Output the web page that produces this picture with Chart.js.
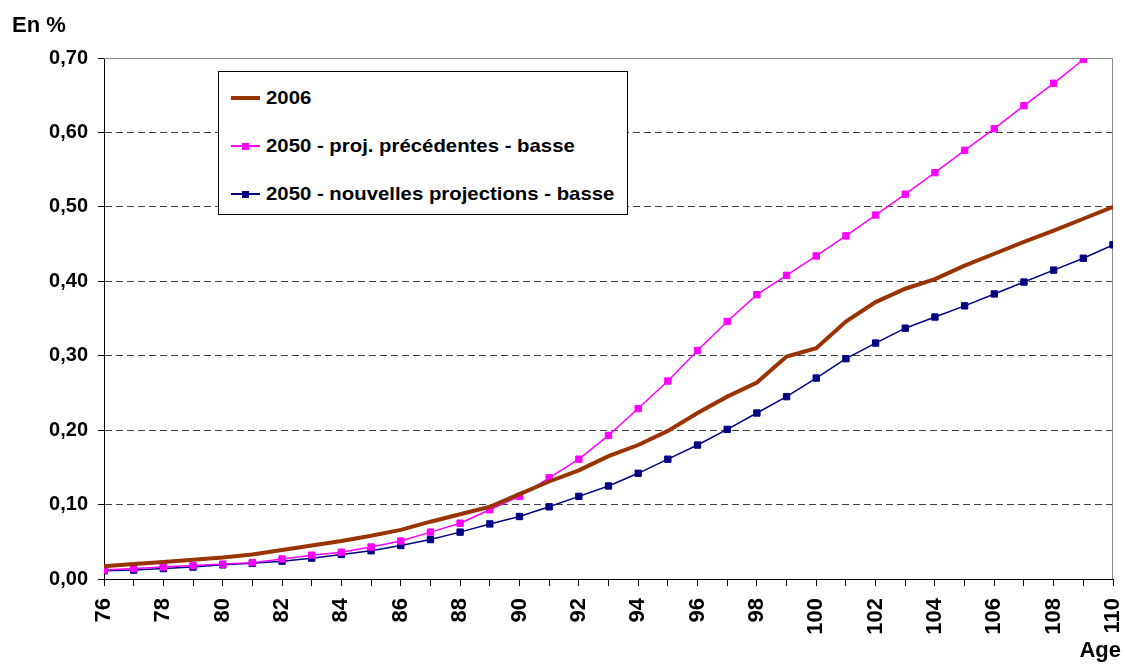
<!DOCTYPE html>
<html>
<head>
<meta charset="utf-8">
<script src="https://cdn.jsdelivr.net/npm/chart.js@4"></script>
<style>
  body { margin: 0; background: #fff; font-family: "Liberation Sans", Arial, sans-serif; }
  #wrap { position: relative; width: 1125px; height: 666px; }
  #legend {
    position: absolute; left: 218px; top: 71px; width: 408px; height: 142px;
    border: 1px solid #000; background: #fff;
  }
  .item { position: absolute; left: 12px; height: 22px; font-weight: bold; font-size: 18.5px; line-height: 22px; color: #000; white-space: nowrap; }
  .swatch { position: absolute; left: 0; top: 11px; width: 29px; }
  .mark { position: absolute; left: 11px; width: 7px; height: 7px; }
  .lbl { position: absolute; left: 35px; top: 0; transform: scaleX(1.1); transform-origin: left center; }
</style>
</head>
<body>
<div id="wrap">
  <canvas id="chart" width="1125" height="666"></canvas>
  <div id="legend"></div>
</div>
<script>
var ages = [76, 77, 78, 79, 80, 81, 82, 83, 84, 85, 86, 87, 88, 89, 90, 91, 92, 93,
  94, 95, 96, 97, 98, 99, 100, 101, 102, 103, 104, 105, 106, 107, 108, 109, 110];

var seriesNames = ['2006', '2050 - proj. précédentes - basse', '2050 - nouvelles projections - basse'];

var val2006 = [0.017, 0.020, 0.023, 0.026, 0.029, 0.033, 0.039, 0.045, 0.051, 0.058,
  0.066, 0.077, 0.087, 0.097, 0.114, 0.131, 0.146, 0.165, 0.180, 0.199,
  0.223, 0.245, 0.264, 0.299, 0.310, 0.346, 0.372, 0.390, 0.403, 0.421,
  0.437, 0.453, 0.468, 0.484, 0.500];

var valPrec = [0.012, 0.014, 0.016, 0.018, 0.020, 0.022, 0.027, 0.032, 0.036, 0.043,
  0.051, 0.063, 0.075, 0.093, 0.111, 0.136, 0.161, 0.193, 0.229, 0.266,
  0.307, 0.346, 0.382, 0.408, 0.434, 0.461, 0.489, 0.517, 0.546, 0.576,
  0.605, 0.636, 0.666, 0.698, 0.728];

var valNouv = [0.011, 0.012, 0.014, 0.016, 0.019, 0.021, 0.024, 0.028, 0.033, 0.038,
  0.045, 0.053, 0.063, 0.074, 0.084, 0.097, 0.111, 0.125, 0.142, 0.161,
  0.180, 0.201, 0.223, 0.245, 0.270, 0.296, 0.317, 0.337, 0.352, 0.367,
  0.383, 0.399, 0.415, 0.431, 0.449];

var yTicks = [0, 0.1, 0.2, 0.3, 0.4, 0.5, 0.6, 0.7];

var colors = ['#993300', '#ff00ff', '#000080'];
var fontFamily = '"Liberation Sans", Arial, sans-serif';

function toPoints(values) {
  return values.map(function(v, i) { return { x: ages[i], y: v }; });
}

// frame on top / right + free texts
var framePlugin = {
  id: 'frame',
  beforeDatasetsDraw: function(chart) {
    var a = chart.chartArea, ctx = chart.ctx;
    ctx.save();
    ctx.strokeStyle = '#888888';
    ctx.lineWidth = 1;
    ctx.beginPath();
    ctx.moveTo(a.left, a.top + 0.5);
    ctx.lineTo(a.right - 0.5, a.top + 0.5);
    ctx.lineTo(a.right - 0.5, a.bottom);
    ctx.stroke();
    ctx.restore();
  },
  afterDraw: function(chart) {
    var ctx = chart.ctx;
    ctx.save();
    ctx.fillStyle = '#000';
    ctx.font = 'bold 22px ' + fontFamily;
    ctx.textBaseline = 'middle';
    ctx.textAlign = 'left';
    ctx.fillText('En %', 12, 26);
    ctx.textAlign = 'right';
    ctx.fillText('Age', 1121, 651);
    ctx.restore();
  }
};

var ctx = document.getElementById('chart').getContext('2d');
var myChart = new Chart(ctx, {
  type: 'line',
  data: {
    datasets: [
      {
        label: seriesNames[0],
        data: toPoints(val2006),
        borderColor: colors[0],
        backgroundColor: colors[0],
        borderWidth: 4,
        pointRadius: 0,
        tension: 0
      },
      {
        label: seriesNames[1],
        data: toPoints(valPrec),
        borderColor: colors[1],
        backgroundColor: colors[1],
        borderWidth: 1.5,
        pointStyle: 'rect',
        pointRadius: 4.5,
        pointBorderWidth: 1,
        tension: 0
      },
      {
        label: seriesNames[2],
        data: toPoints(valNouv),
        borderColor: colors[2],
        backgroundColor: colors[2],
        borderWidth: 1.5,
        pointStyle: 'rect',
        pointRadius: 4.5,
        pointBorderWidth: 1,
        tension: 0
      }
    ]
  },
  options: {
    responsive: false,
    animation: false,
    devicePixelRatio: 1,
    layout: { padding: { left: 0, top: 58, right: 12, bottom: 0 } },
    plugins: {
      legend: { display: false },
      tooltip: { enabled: false }
    },
    scales: {
      x: {
        type: 'linear',
        min: ages[0],
        max: ages[ages.length - 1],
        afterFit: function(scale) {
          scale.height = 87;
          scale.paddingLeft = 0;
          scale.paddingRight = 0;
        },
        afterBuildTicks: function(scale) {
          scale.ticks = ages.map(function(a) { return { value: a }; });
        },
        ticks: {
          autoSkip: false,
          maxRotation: 90,
          minRotation: 90,
          padding: 12,
          color: '#000',
          font: { family: fontFamily, size: 22, weight: 'bold' },
          callback: function(v) { return v % 2 === 0 ? String(v) : ''; }
        },
        grid: {
          drawOnChartArea: false,
          drawTicks: true,
          tickLength: 7,
          tickColor: '#000',
          tickWidth: 1
        },
        border: { display: true, color: '#000', width: 1 }
      },
      y: {
        min: 0,
        max: 0.7,
        afterFit: function(scale) {
          scale.width = 104;
          scale.paddingTop = 0;
          scale.paddingBottom = 0;
        },
        afterBuildTicks: function(scale) {
          scale.ticks = yTicks.map(function(t) { return { value: t }; });
        },
        ticks: {
          padding: 10,
          color: '#000',
          font: { family: fontFamily, size: 20, weight: 'bold' },
          callback: function(v) { return v.toFixed(2).replace('.', ','); }
        },
        grid: {
          color: function(c) {
            if (c.tick && (c.tick.value > 0.65 || c.tick.value < 0.05)) return 'rgba(0,0,0,0)';
            return '#404040';
          },
          lineWidth: 1,
          drawTicks: true,
          tickLength: 6,
          tickColor: '#000',
          tickWidth: 1
        },
        border: { display: true, color: '#000', width: 1, dash: [7, 4] }
      }
    }
  },
  plugins: [framePlugin]
});

// legend box
var legendEl = document.getElementById('legend');
var rowTops = [15, 63, 111];
seriesNames.forEach(function(name, i) {
  var item = document.createElement('div');
  item.className = 'item';
  item.style.top = rowTops[i] + 'px';
  var sw = document.createElement('div');
  sw.className = 'swatch';
  var lw = i === 0 ? 4 : 1.5;
  sw.style.height = lw + 'px';
  sw.style.marginTop = (-lw / 2) + 'px';
  sw.style.background = colors[i];
  item.appendChild(sw);
  if (i > 0) {
    var mk = document.createElement('div');
    mk.className = 'mark';
    mk.style.top = '7.5px';
    mk.style.background = colors[i];
    item.appendChild(mk);
  }
  var lbl = document.createElement('span');
  lbl.className = 'lbl';
  lbl.textContent = name;
  item.appendChild(lbl);
  legendEl.appendChild(item);
});
</script>
</body>
</html>
